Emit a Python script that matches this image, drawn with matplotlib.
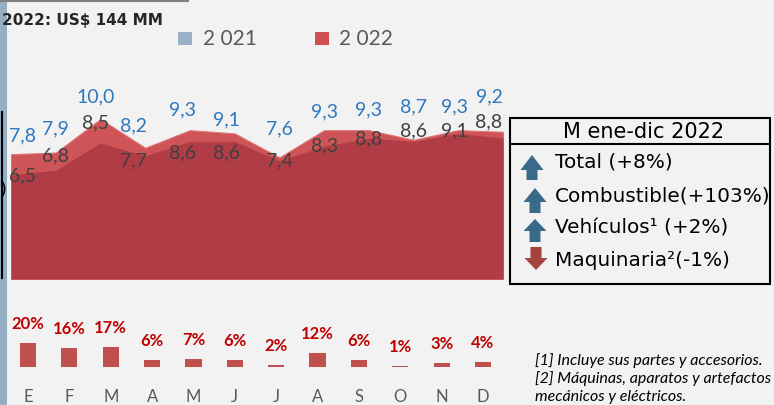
import numpy as np
import matplotlib
matplotlib.use("Agg")
import matplotlib.pyplot as plt
from matplotlib.patches import Rectangle, Polygon

# datos
meses = ["E", "F", "M", "A", "M", "J", "J", "A", "S", "O", "N", "D"]
v2022 = [7.8, 7.9, 10.0, 8.2, 9.3, 9.1, 7.6, 9.3, 9.3, 8.7, 9.3, 9.2]
v2021 = [6.5, 6.8, 8.5, 7.7, 8.6, 8.6, 7.4, 8.3, 8.8, 8.6, 9.1, 8.8]
var_pct = [20, 16, 17, 6, 7, 6, 2, 12, 6, 1, 3, 4]
titulo = "2022: US$ 144 MM"
cuadro_titulo = "M ene-dic 2022"
cuadro_items = ["Total (+8%)", "Combustible(+103%)", "Vehículos¹ (+2%)", "Maquinaria²(-1%)"]
cuadro_sube = [True, True, True, False]
notas = ["[1] Incluye sus partes y accesorios.",
         "[2] Máquinas, aparatos y artefactos",
         "mecánicos y eléctricos."]

# desplazamientos de etiquetas (px), como en el original
dx_lab = [12, 0, -5, -12, -7, -8, 0, 0, 0, 0, -4, -14]
dy_22 = [18, 24, 22, 22, 20, 14, 29, 18, 20, 33, 23, 35]
dy_21 = [-1, 14, 20, -5, -11, -11, 0, 0, -1, 11, 3, 16]

W, H = 774, 405
PT = 0.72  # px -> pt a 100 dpi
fondo = "#F2F2F2"
c22 = "#CF5457"
c21 = "#B03C46"
azul = "#2E78C0"
gris_lab = "#404040"

fig = plt.figure(figsize=(W / 100, H / 100), dpi=100, facecolor=fondo)

# capa de adornos en pixeles
deco = fig.add_axes([0, 0, 1, 1], zorder=0)
deco.set_xlim(0, W)
deco.set_ylim(H, 0)
deco.axis("off")
deco.add_patch(Rectangle((0, 0), 7, H, color="#94AEC4", lw=0))
deco.plot([0, 188], [1, 1], color="#808080", lw=1.5)
deco.plot([1.5, 1.5], [112, 278], color="black", lw=1.5)
deco.text(0, 190, ")", fontsize=13, va="center", ha="left", color="black")

fig.text(2 / W, 1 - 20 / H, titulo, fontsize=11, fontweight="bold",
         color="#262626", va="center", ha="left", family="DejaVu Sans")

# leyenda superior
deco.add_patch(Rectangle((178, 32), 14, 13, color="#9AB0C4", lw=0))
deco.text(203, 39, "2 021", fontsize=15, color="#595959", va="center", family="Lato")
deco.add_patch(Rectangle((315, 32), 14, 13, color="#D05050", lw=0))
deco.text(339, 39, "2 022", fontsize=15, color="#595959", va="center", family="Lato")

# grafico de areas
ax = fig.add_axes([11 / W, (H - 279) / H, (503 - 11) / W, 160 / H], zorder=1)
ax.set_facecolor("none")
x = np.arange(12)
ax.fill_between(x, v2022, color=c22, lw=0.8, edgecolor="#DD7275")
ax.fill_between(x, v2021, color=c21, lw=0)
ax.set_xlim(0, 11)
ax.set_ylim(0, 10)
ax.axis("off")
for i in range(12):
    ax.annotate(f"{v2022[i]:.1f}".replace(".", ","), (x[i], v2022[i]),
                xytext=(dx_lab[i] * PT, dy_22[i] * PT), textcoords="offset points",
                ha="center", va="center", fontsize=14, color=azul,
                family="Lato", annotation_clip=False)
    ax.annotate(f"{v2021[i]:.1f}".replace(".", ","), (x[i], v2021[i]),
                xytext=(dx_lab[i] * PT, dy_21[i] * PT), textcoords="offset points",
                ha="center", va="center", fontsize=14, color=gris_lab,
                family="Lato", annotation_clip=False)

# barras de variacion
paso = 41.36
bx = fig.add_axes([(28 - paso / 2) / W, (H - 367) / H, paso * 12 / W, 24 / H], zorder=1)
bx.set_facecolor("none")
bx.bar(x, var_pct, width=0.39, color="#C0504D")
bx.set_xlim(-0.5, 11.5)
bx.set_ylim(0, 20)
for s in bx.spines.values():
    s.set_visible(False)
bx.set_yticks([])
bx.set_xticks(x)
bx.set_xticklabels(meses, fontsize=12, color="#595959", family="Lato")
bx.tick_params(axis="x", length=0, pad=22 * PT)
for i in range(12):
    bx.annotate(f"{var_pct[i]}%", (x[i], var_pct[i]), xytext=(0, 19 * PT),
                textcoords="offset points", ha="center", va="center",
                fontsize=12, fontweight="bold", color="#C00000",
                family="Lato", annotation_clip=False)

# cuadro de la derecha
deco.add_patch(Rectangle((510, 118), 260, 166, fill=False, ec="black", lw=1.5, zorder=3))
deco.plot([510, 770], [144, 144], color="black", lw=1.5, zorder=3)
deco.text(644, 132, cuadro_titulo, fontsize=15, ha="center", va="center",
          color="black", family="DejaVu Sans")

filas_y = [162, 196, 228, 260]
flechas = [(532, 155, 180, 15), (535, 188, 213, 14), (535, 219, 242, 12), (536, 247, 270, 12)]
for txt, sube, fy, (cx, top, bot, cab) in zip(cuadro_items, cuadro_sube, filas_y, flechas):
    if sube:
        pts = [(cx, top), (cx + 11.5, top + cab), (cx + 5.5, top + cab), (cx + 5.5, bot),
               (cx - 5.5, bot), (cx - 5.5, top + cab), (cx - 11.5, top + cab)]
        col = "#3A6A8A"
    else:
        pts = [(cx, bot), (cx + 11.5, bot - cab), (cx + 5.5, bot - cab), (cx + 5.5, top),
               (cx - 5.5, top), (cx - 5.5, bot - cab), (cx - 11.5, bot - cab)]
        col = "#A5443F"
    deco.add_patch(Polygon(pts, closed=True, color=col, lw=0))
    deco.text(555, fy, txt, fontsize=14.4, va="center", ha="left",
              color="black", family="DejaVu Sans")

# notas
for k, nota in enumerate(notas):
    deco.text(535, 361 + k * 18, nota, fontsize=11.5, style="italic",
              va="center", ha="left", color="black", family="Lato")

fig.savefig("out.png", dpi=100, facecolor=fondo)
